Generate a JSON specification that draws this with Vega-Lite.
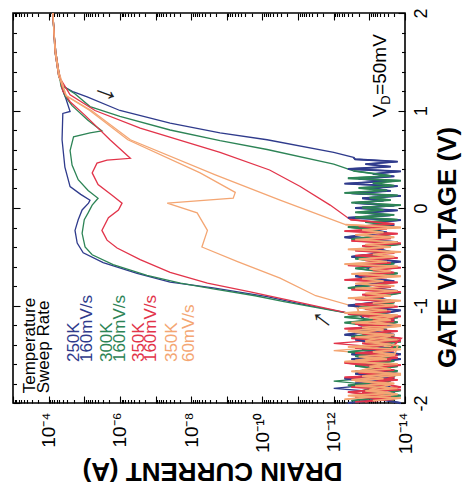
{
"$schema":"https://vega.github.io/schema/vega-lite/v6.json",
"width":392,"height":390,
"autosize":{"type":"none"},
"padding":{"left":13,"top":13,"right":60,"bottom":88},
"background":"white",
"config":{"view":{"stroke":"black","strokeWidth":1.6},"font":"Liberation Sans","axis":{"grid":false,"domain":false,"tickColor":"black","labelColor":"black","titleColor":"black","labelOverlap":false}},
"datasets":{
"curves":[
{"c":"a","b":"f","v":-2,"i":1.3e-14},{"c":"a","b":"f","v":-1.95,"i":8e-14},{"c":"a","b":"f","v":-1.9,"i":2e-14},{"c":"a","b":"f","v":-1.85,"i":1e-12},{"c":"a","b":"f","v":-1.8,"i":3.2e-14},{"c":"a","b":"f","v":-1.75,"i":5e-13},{"c":"a","b":"f","v":-1.7,"i":1.6e-14},{"c":"a","b":"f","v":-1.65,"i":1e-13},{"c":"a","b":"f","v":-1.6,"i":2.5e-14},{"c":"a","b":"f","v":-1.55,"i":3.2e-13},{"c":"a","b":"f","v":-1.5,"i":1.3e-14},{"c":"a","b":"f","v":-1.45,"i":1.6e-13},{"c":"a","b":"f","v":-1.4,"i":4e-14},{"c":"a","b":"f","v":-1.35,"i":2.5e-13},{"c":"a","b":"f","v":-1.3,"i":2e-14},{"c":"a","b":"f","v":-1.25,"i":2.5e-13},{"c":"a","b":"f","v":-1.2,"i":1.6e-14},{"c":"a","b":"f","v":-1.15,"i":1.3e-13},
{"c":"a","b":"f","v":-1.1,"i":1.8e-13},{"c":"a","b":"f","v":-1.05,"i":1e-12},{"c":"a","b":"f","v":-0.97,"i":1.26e-11},{"c":"a","b":"f","v":-0.91,"i":7.4e-11},{"c":"a","b":"f","v":-0.82,"i":2.4e-9},{"c":"a","b":"f","v":-0.76,"i":3.9e-8},{"c":"a","b":"f","v":-0.67,"i":3.3e-7},{"c":"a","b":"f","v":-0.56,"i":2.95e-6},{"c":"a","b":"f","v":-0.46,"i":1.07e-5},{"c":"a","b":"f","v":-0.36,"i":1.58e-5},{"c":"a","b":"f","v":-0.23,"i":1.82e-5},{"c":"a","b":"f","v":-0.12,"i":1.48e-5},{"c":"a","b":"f","v":-0.02,"i":1.15e-5},{"c":"a","b":"f","v":0.05,"i":7.6e-6},{"c":"a","b":"f","v":0.08,"i":6.9e-6},{"c":"a","b":"f","v":0.14,"i":1.26e-5},{"c":"a","b":"f","v":0.22,"i":2.5e-5},{"c":"a","b":"f","v":0.42,"i":3.5e-5},{"c":"a","b":"f","v":0.7,"i":4.2e-5},{"c":"a","b":"f","v":0.97,"i":4e-5},{"c":"a","b":"f","v":0.99,"i":2.5e-5},{"c":"a","b":"f","v":1.11,"i":3.2e-5},{"c":"a","b":"f","v":1.21,"i":4e-5},{"c":"a","b":"f","v":1.4,"i":5.2e-5},{"c":"a","b":"f","v":1.6,"i":6.3e-5},{"c":"a","b":"f","v":1.8,"i":7.1e-5},{"c":"a","b":"f","v":2,"i":7.6e-5},
{"c":"a","b":"r","v":2,"i":7.6e-5},{"c":"a","b":"r","v":1.6,"i":6.6e-5},{"c":"a","b":"r","v":1.35,"i":5.2e-5},{"c":"a","b":"r","v":1.25,"i":4e-5},{"c":"a","b":"r","v":1.19,"i":2e-5},{"c":"a","b":"r","v":1.14,"i":8.3e-6},{"c":"a","b":"r","v":1,"i":1e-6},{"c":"a","b":"r","v":0.87,"i":3.9e-8},{"c":"a","b":"r","v":0.77,"i":1.55e-9},{"c":"a","b":"r","v":0.7,"i":7.4e-11},{"c":"a","b":"r","v":0.57,"i":1e-12},{"c":"a","b":"r","v":0.52,"i":2.8e-13},
{"c":"a","b":"r","v":0.5,"i":2.5e-13},{"c":"a","b":"r","v":0.475,"i":1.6e-14},{"c":"a","b":"r","v":0.45,"i":1.3e-13},{"c":"a","b":"r","v":0.425,"i":2.5e-14},{"c":"a","b":"r","v":0.4,"i":4e-13},{"c":"a","b":"r","v":0.375,"i":1.3e-14},{"c":"a","b":"r","v":0.35,"i":8e-14},{"c":"a","b":"r","v":0.325,"i":2e-14},{"c":"a","b":"r","v":0.3,"i":2e-13},{"c":"a","b":"r","v":0.275,"i":3.2e-14},{"c":"a","b":"r","v":0.25,"i":5e-13},{"c":"a","b":"r","v":0.225,"i":1.6e-14},{"c":"a","b":"r","v":0.2,"i":1e-13},{"c":"a","b":"r","v":0.175,"i":2.5e-14},{"c":"a","b":"r","v":0.15,"i":3.2e-13},{"c":"a","b":"r","v":0.125,"i":1.3e-14},{"c":"a","b":"r","v":0.1,"i":1.6e-13},{"c":"a","b":"r","v":0.075,"i":4e-14},{"c":"a","b":"r","v":0.05,"i":2.5e-13},{"c":"a","b":"r","v":0.025,"i":2e-14},{"c":"a","b":"r","v":0,"i":2.5e-13},{"c":"a","b":"r","v":-0.025,"i":1.6e-14},{"c":"a","b":"r","v":-0.05,"i":1.3e-13},{"c":"a","b":"r","v":-0.075,"i":2.5e-14},{"c":"a","b":"r","v":-0.1,"i":4e-13},{"c":"a","b":"r","v":-0.125,"i":1.3e-14},{"c":"a","b":"r","v":-0.15,"i":8e-14},{"c":"a","b":"r","v":-0.175,"i":2e-14},{"c":"a","b":"r","v":-0.2,"i":2e-13},
{"c":"a","b":"r","v":-0.25,"i":3.2e-14},{"c":"a","b":"r","v":-0.3,"i":5e-13},{"c":"a","b":"r","v":-0.35,"i":1.6e-14},{"c":"a","b":"r","v":-0.4,"i":1e-13},{"c":"a","b":"r","v":-0.45,"i":2.5e-14},{"c":"a","b":"r","v":-0.5,"i":3.2e-13},{"c":"a","b":"r","v":-0.55,"i":1.3e-14},{"c":"a","b":"r","v":-0.6,"i":1.6e-13},{"c":"a","b":"r","v":-0.65,"i":4e-14},{"c":"a","b":"r","v":-0.7,"i":2.5e-13},{"c":"a","b":"r","v":-0.75,"i":2e-14},{"c":"a","b":"r","v":-0.8,"i":2.5e-13},{"c":"a","b":"r","v":-0.85,"i":1.6e-14},{"c":"a","b":"r","v":-0.9,"i":1.3e-13},{"c":"a","b":"r","v":-0.95,"i":2.5e-14},{"c":"a","b":"r","v":-1,"i":4e-13},{"c":"a","b":"r","v":-1.05,"i":1.3e-14},{"c":"a","b":"r","v":-1.1,"i":8e-14},{"c":"a","b":"r","v":-1.15,"i":2e-14},{"c":"a","b":"r","v":-1.2,"i":2e-13},{"c":"a","b":"r","v":-1.25,"i":3.2e-14},{"c":"a","b":"r","v":-1.3,"i":5e-13},{"c":"a","b":"r","v":-1.35,"i":1.6e-14},{"c":"a","b":"r","v":-1.4,"i":1e-13},{"c":"a","b":"r","v":-1.45,"i":2.5e-14},{"c":"a","b":"r","v":-1.5,"i":3.2e-13},{"c":"a","b":"r","v":-1.55,"i":1.3e-14},{"c":"a","b":"r","v":-1.6,"i":1.6e-13},{"c":"a","b":"r","v":-1.65,"i":4e-14},{"c":"a","b":"r","v":-1.7,"i":2.5e-13},{"c":"a","b":"r","v":-1.75,"i":2e-14},{"c":"a","b":"r","v":-1.8,"i":2.5e-13},{"c":"a","b":"r","v":-1.85,"i":1.6e-14},{"c":"a","b":"r","v":-1.9,"i":1.3e-13},{"c":"a","b":"r","v":-1.95,"i":2.5e-14},{"c":"a","b":"r","v":-2,"i":4e-13},

{"c":"b","b":"f","v":-1.975,"i":3.2e-13},{"c":"b","b":"f","v":-1.925,"i":1.3e-14},{"c":"b","b":"f","v":-1.875,"i":1.6e-13},{"c":"b","b":"f","v":-1.825,"i":4e-14},{"c":"b","b":"f","v":-1.775,"i":1e-12},{"c":"b","b":"f","v":-1.725,"i":2e-14},{"c":"b","b":"f","v":-1.675,"i":2.5e-13},{"c":"b","b":"f","v":-1.625,"i":1.6e-14},{"c":"b","b":"f","v":-1.575,"i":1.3e-13},{"c":"b","b":"f","v":-1.525,"i":2.5e-14},{"c":"b","b":"f","v":-1.475,"i":4e-13},{"c":"b","b":"f","v":-1.425,"i":1.3e-14},{"c":"b","b":"f","v":-1.375,"i":8e-14},{"c":"b","b":"f","v":-1.325,"i":2e-14},{"c":"b","b":"f","v":-1.275,"i":2e-13},{"c":"b","b":"f","v":-1.225,"i":3.2e-14},{"c":"b","b":"f","v":-1.175,"i":5e-13},{"c":"b","b":"f","v":-1.125,"i":1.6e-14},
{"c":"b","b":"f","v":-1.1,"i":1.8e-13},{"c":"b","b":"f","v":-1.04,"i":1.6e-12},{"c":"b","b":"f","v":-0.96,"i":2.5e-11},{"c":"b","b":"f","v":-0.9,"i":1.6e-10},{"c":"b","b":"f","v":-0.83,"i":2.4e-9},{"c":"b","b":"f","v":-0.77,"i":2e-8},{"c":"b","b":"f","v":-0.69,"i":1.74e-7},{"c":"b","b":"f","v":-0.58,"i":1.55e-6},{"c":"b","b":"f","v":-0.48,"i":6e-6},{"c":"b","b":"f","v":-0.4,"i":9.5e-6},{"c":"b","b":"f","v":-0.26,"i":1.15e-5},{"c":"b","b":"f","v":-0.12,"i":1e-5},{"c":"b","b":"f","v":-0.05,"i":7.8e-6},{"c":"b","b":"f","v":0.03,"i":6e-6},{"c":"b","b":"f","v":0.1,"i":4.1e-6},{"c":"b","b":"f","v":0.18,"i":7.8e-6},{"c":"b","b":"f","v":0.29,"i":1.48e-5},{"c":"b","b":"f","v":0.44,"i":2.2e-5},{"c":"b","b":"f","v":0.59,"i":2.5e-5},{"c":"b","b":"f","v":0.73,"i":2e-5},{"c":"b","b":"f","v":0.77,"i":6.9e-6},{"c":"b","b":"f","v":0.79,"i":3.2e-6},{"c":"b","b":"f","v":0.9,"i":7.9e-6},{"c":"b","b":"f","v":1.05,"i":2.2e-5},{"c":"b","b":"f","v":1.15,"i":3.5e-5},{"c":"b","b":"f","v":1.25,"i":4.5e-5},{"c":"b","b":"f","v":1.4,"i":5.2e-5},{"c":"b","b":"f","v":1.6,"i":6.3e-5},{"c":"b","b":"f","v":1.8,"i":7.1e-5},{"c":"b","b":"f","v":2,"i":7.6e-5},
{"c":"b","b":"r","v":2,"i":7.6e-5},{"c":"b","b":"r","v":1.6,"i":6.6e-5},{"c":"b","b":"r","v":1.35,"i":5.2e-5},{"c":"b","b":"r","v":1.25,"i":4e-5},{"c":"b","b":"r","v":1.17,"i":1.8e-5},{"c":"b","b":"r","v":1.04,"i":6.9e-6},{"c":"b","b":"r","v":0.94,"i":1e-6},{"c":"b","b":"r","v":0.8,"i":3.9e-8},{"c":"b","b":"r","v":0.69,"i":1.55e-9},{"c":"b","b":"r","v":0.6,"i":7.4e-11},{"c":"b","b":"r","v":0.45,"i":1e-12},{"c":"b","b":"r","v":0.38,"i":2.8e-13},
{"c":"b","b":"r","v":0.33,"i":2.5e-14},{"c":"b","b":"r","v":0.305,"i":4e-13},{"c":"b","b":"r","v":0.28,"i":1.3e-14},{"c":"b","b":"r","v":0.255,"i":8e-14},{"c":"b","b":"r","v":0.23,"i":2e-14},{"c":"b","b":"r","v":0.205,"i":2e-13},{"c":"b","b":"r","v":0.18,"i":3.2e-14},{"c":"b","b":"r","v":0.155,"i":5e-13},{"c":"b","b":"r","v":0.13,"i":1.6e-14},{"c":"b","b":"r","v":0.105,"i":1e-13},{"c":"b","b":"r","v":0.08,"i":2.5e-14},{"c":"b","b":"r","v":0.055,"i":3.2e-13},{"c":"b","b":"r","v":0.03,"i":1.3e-14},{"c":"b","b":"r","v":0.005,"i":1.6e-13},{"c":"b","b":"r","v":-0.02,"i":4e-14},{"c":"b","b":"r","v":-0.045,"i":2.5e-13},{"c":"b","b":"r","v":-0.07,"i":2e-14},{"c":"b","b":"r","v":-0.095,"i":2.5e-13},{"c":"b","b":"r","v":-0.12,"i":1.6e-14},{"c":"b","b":"r","v":-0.145,"i":1.3e-13},{"c":"b","b":"r","v":-0.17,"i":2.5e-14},{"c":"b","b":"r","v":-0.195,"i":4e-13},
{"c":"b","b":"r","v":-0.22,"i":1e-13},{"c":"b","b":"r","v":-0.27,"i":2.5e-14},{"c":"b","b":"r","v":-0.32,"i":3.2e-13},{"c":"b","b":"r","v":-0.37,"i":1.3e-14},{"c":"b","b":"r","v":-0.42,"i":1.6e-13},{"c":"b","b":"r","v":-0.47,"i":4e-14},{"c":"b","b":"r","v":-0.52,"i":2.5e-13},{"c":"b","b":"r","v":-0.57,"i":2e-14},{"c":"b","b":"r","v":-0.62,"i":2.5e-13},{"c":"b","b":"r","v":-0.67,"i":1.6e-14},{"c":"b","b":"r","v":-0.72,"i":1.3e-13},{"c":"b","b":"r","v":-0.77,"i":2.5e-14},{"c":"b","b":"r","v":-0.82,"i":4e-13},{"c":"b","b":"r","v":-0.87,"i":1.3e-14},{"c":"b","b":"r","v":-0.92,"i":8e-14},{"c":"b","b":"r","v":-0.97,"i":2e-14},{"c":"b","b":"r","v":-1.02,"i":2e-13},{"c":"b","b":"r","v":-1.07,"i":3.2e-14},{"c":"b","b":"r","v":-1.12,"i":5e-13},{"c":"b","b":"r","v":-1.17,"i":1.6e-14},{"c":"b","b":"r","v":-1.22,"i":1e-13},{"c":"b","b":"r","v":-1.27,"i":2.5e-14},{"c":"b","b":"r","v":-1.32,"i":3.2e-13},{"c":"b","b":"r","v":-1.37,"i":1.3e-14},{"c":"b","b":"r","v":-1.42,"i":1.6e-13},{"c":"b","b":"r","v":-1.47,"i":4e-14},{"c":"b","b":"r","v":-1.52,"i":2.5e-13},{"c":"b","b":"r","v":-1.57,"i":2e-14},{"c":"b","b":"r","v":-1.62,"i":2.5e-13},{"c":"b","b":"r","v":-1.67,"i":1.6e-14},{"c":"b","b":"r","v":-1.72,"i":1.3e-13},{"c":"b","b":"r","v":-1.77,"i":2.5e-14},{"c":"b","b":"r","v":-1.82,"i":4e-13},{"c":"b","b":"r","v":-1.87,"i":1.3e-14},{"c":"b","b":"r","v":-1.92,"i":8e-14},{"c":"b","b":"r","v":-1.97,"i":2e-14},

{"c":"c","b":"f","v":-1.9875,"i":1.3e-13},{"c":"c","b":"f","v":-1.9375,"i":2.5e-14},{"c":"c","b":"f","v":-1.8875,"i":4e-13},{"c":"c","b":"f","v":-1.8375,"i":1.3e-14},{"c":"c","b":"f","v":-1.7875,"i":8e-14},{"c":"c","b":"f","v":-1.7375,"i":2e-14},{"c":"c","b":"f","v":-1.6875,"i":2e-13},{"c":"c","b":"f","v":-1.6375,"i":3.2e-14},{"c":"c","b":"f","v":-1.5875,"i":5e-13},{"c":"c","b":"f","v":-1.5375,"i":1.6e-14},{"c":"c","b":"f","v":-1.4875,"i":1e-13},{"c":"c","b":"f","v":-1.4375,"i":2.5e-14},{"c":"c","b":"f","v":-1.3875,"i":1e-12},{"c":"c","b":"f","v":-1.3375,"i":1.3e-14},{"c":"c","b":"f","v":-1.2875,"i":1.6e-13},{"c":"c","b":"f","v":-1.2375,"i":4e-14},{"c":"c","b":"f","v":-1.1875,"i":2.5e-13},{"c":"c","b":"f","v":-1.1375,"i":2e-14},
{"c":"c","b":"f","v":-1.11,"i":1.6e-13},{"c":"c","b":"f","v":-0.97,"i":8.7e-12},{"c":"c","b":"f","v":-0.86,"i":2.2e-10},{"c":"c","b":"f","v":-0.77,"i":3.5e-9},{"c":"c","b":"f","v":-0.66,"i":3.9e-8},{"c":"c","b":"f","v":-0.53,"i":2.7e-7},{"c":"c","b":"f","v":-0.41,"i":1.2e-6},{"c":"c","b":"f","v":-0.33,"i":2.3e-6},{"c":"c","b":"f","v":-0.23,"i":3.2e-6},{"c":"c","b":"f","v":-0.1,"i":2.1e-6},{"c":"c","b":"f","v":-0.02,"i":1.1e-6},{"c":"c","b":"f","v":0.05,"i":8.7e-7},{"c":"c","b":"f","v":0.13,"i":1.66e-6},{"c":"c","b":"f","v":0.24,"i":4.1e-6},{"c":"c","b":"f","v":0.36,"i":6e-6},{"c":"c","b":"f","v":0.46,"i":4.4e-6},{"c":"c","b":"f","v":0.49,"i":2.3e-6},{"c":"c","b":"f","v":0.51,"i":5.1e-7},{"c":"c","b":"f","v":0.7,"i":1.9e-6},{"c":"c","b":"f","v":0.95,"i":9.5e-6},{"c":"c","b":"f","v":1.09,"i":2.5e-5},{"c":"c","b":"f","v":1.2,"i":4e-5},{"c":"c","b":"f","v":1.4,"i":5.2e-5},{"c":"c","b":"f","v":1.6,"i":6.3e-5},{"c":"c","b":"f","v":1.8,"i":7.1e-5},{"c":"c","b":"f","v":2,"i":7.6e-5},
{"c":"c","b":"r","v":2,"i":7.6e-5},{"c":"c","b":"r","v":1.6,"i":6.6e-5},{"c":"c","b":"r","v":1.35,"i":5.2e-5},{"c":"c","b":"r","v":1.25,"i":3.5e-5},{"c":"c","b":"r","v":1.16,"i":2.5e-5},{"c":"c","b":"r","v":1,"i":5e-6},{"c":"c","b":"r","v":0.82,"i":2.7e-7},{"c":"c","b":"r","v":0.57,"i":1.55e-9},{"c":"c","b":"r","v":0.39,"i":6.3e-11},{"c":"c","b":"r","v":0.22,"i":8.7e-12},{"c":"c","b":"r","v":0.03,"i":1.26e-12},{"c":"c","b":"r","v":-0.12,"i":3.4e-13},
{"c":"c","b":"r","v":-0.1625,"i":2e-14},{"c":"c","b":"r","v":-0.1875,"i":2e-13},{"c":"c","b":"r","v":-0.2125,"i":3.2e-14},{"c":"c","b":"r","v":-0.2375,"i":5e-13},{"c":"c","b":"r","v":-0.2625,"i":1.6e-14},{"c":"c","b":"r","v":-0.2875,"i":1e-13},{"c":"c","b":"r","v":-0.3125,"i":2.5e-14},{"c":"c","b":"r","v":-0.3375,"i":3.2e-13},{"c":"c","b":"r","v":-0.3625,"i":1.3e-14},{"c":"c","b":"r","v":-0.3875,"i":1.6e-13},{"c":"c","b":"r","v":-0.4125,"i":4e-14},{"c":"c","b":"r","v":-0.4375,"i":2.5e-13},{"c":"c","b":"r","v":-0.4625,"i":2e-14},{"c":"c","b":"r","v":-0.4875,"i":2.5e-13},{"c":"c","b":"r","v":-0.5125,"i":1.6e-14},{"c":"c","b":"r","v":-0.5375,"i":1.3e-13},{"c":"c","b":"r","v":-0.5625,"i":2.5e-14},{"c":"c","b":"r","v":-0.5875,"i":4e-13},{"c":"c","b":"r","v":-0.6125,"i":1.3e-14},{"c":"c","b":"r","v":-0.6375,"i":8e-14},{"c":"c","b":"r","v":-0.6625,"i":2e-14},{"c":"c","b":"r","v":-0.6875,"i":2e-13},{"c":"c","b":"r","v":-0.7125,"i":3.2e-14},{"c":"c","b":"r","v":-0.7375,"i":5e-13},{"c":"c","b":"r","v":-0.7625,"i":1.6e-14},{"c":"c","b":"r","v":-0.7875,"i":1e-13},{"c":"c","b":"r","v":-0.8125,"i":2.5e-14},{"c":"c","b":"r","v":-0.8375,"i":3.2e-13},{"c":"c","b":"r","v":-0.8625,"i":1.3e-14},{"c":"c","b":"r","v":-0.8875,"i":1.6e-13},{"c":"c","b":"r","v":-0.9125,"i":4e-14},{"c":"c","b":"r","v":-0.9375,"i":2.5e-13},{"c":"c","b":"r","v":-0.9625,"i":2e-14},{"c":"c","b":"r","v":-0.9875,"i":2.5e-13},{"c":"c","b":"r","v":-1.0125,"i":1.6e-14},{"c":"c","b":"r","v":-1.0375,"i":1.3e-13},{"c":"c","b":"r","v":-1.0625,"i":2.5e-14},{"c":"c","b":"r","v":-1.0875,"i":4e-13},{"c":"c","b":"r","v":-1.1125,"i":1.3e-14},{"c":"c","b":"r","v":-1.1375,"i":8e-14},{"c":"c","b":"r","v":-1.1625,"i":2e-14},{"c":"c","b":"r","v":-1.1875,"i":2e-13},{"c":"c","b":"r","v":-1.2125,"i":3.2e-14},{"c":"c","b":"r","v":-1.2375,"i":5e-13},{"c":"c","b":"r","v":-1.2625,"i":1.6e-14},{"c":"c","b":"r","v":-1.2875,"i":1e-13},{"c":"c","b":"r","v":-1.3125,"i":2.5e-14},{"c":"c","b":"r","v":-1.3375,"i":3.2e-13},{"c":"c","b":"r","v":-1.3625,"i":1.3e-14},{"c":"c","b":"r","v":-1.3875,"i":1.6e-13},{"c":"c","b":"r","v":-1.4125,"i":4e-14},{"c":"c","b":"r","v":-1.4375,"i":2.5e-13},{"c":"c","b":"r","v":-1.4625,"i":2e-14},{"c":"c","b":"r","v":-1.4875,"i":2.5e-13},{"c":"c","b":"r","v":-1.5125,"i":1.6e-14},{"c":"c","b":"r","v":-1.5375,"i":1.3e-13},{"c":"c","b":"r","v":-1.5625,"i":2.5e-14},{"c":"c","b":"r","v":-1.5875,"i":4e-13},{"c":"c","b":"r","v":-1.6125,"i":1.3e-14},{"c":"c","b":"r","v":-1.6375,"i":8e-14},{"c":"c","b":"r","v":-1.6625,"i":2e-14},{"c":"c","b":"r","v":-1.6875,"i":2e-13},{"c":"c","b":"r","v":-1.7125,"i":3.2e-14},{"c":"c","b":"r","v":-1.7375,"i":5e-13},{"c":"c","b":"r","v":-1.7625,"i":1.6e-14},{"c":"c","b":"r","v":-1.7875,"i":1e-13},{"c":"c","b":"r","v":-1.8125,"i":2.5e-14},{"c":"c","b":"r","v":-1.8375,"i":3.2e-13},{"c":"c","b":"r","v":-1.8625,"i":1.3e-14},{"c":"c","b":"r","v":-1.8875,"i":1.6e-13},{"c":"c","b":"r","v":-1.9125,"i":4e-14},{"c":"c","b":"r","v":-1.9375,"i":2.5e-13},{"c":"c","b":"r","v":-1.9625,"i":2e-14},{"c":"c","b":"r","v":-1.9875,"i":2.5e-13},

{"c":"d","b":"f","v":-1.9625,"i":5e-13},{"c":"d","b":"f","v":-1.9125,"i":1.6e-14},{"c":"d","b":"f","v":-1.8625,"i":1e-13},{"c":"d","b":"f","v":-1.8125,"i":2.5e-14},{"c":"d","b":"f","v":-1.7625,"i":3.2e-13},{"c":"d","b":"f","v":-1.7125,"i":1.3e-14},{"c":"d","b":"f","v":-1.6625,"i":1.6e-13},{"c":"d","b":"f","v":-1.6125,"i":4e-14},{"c":"d","b":"f","v":-1.5625,"i":2.5e-13},{"c":"d","b":"f","v":-1.5125,"i":2e-14},{"c":"d","b":"f","v":-1.4625,"i":1e-12},{"c":"d","b":"f","v":-1.4125,"i":1.6e-14},{"c":"d","b":"f","v":-1.3625,"i":1.3e-13},{"c":"d","b":"f","v":-1.3125,"i":2.5e-14},{"c":"d","b":"f","v":-1.2625,"i":4e-13},{"c":"d","b":"f","v":-1.2125,"i":1.3e-14},{"c":"d","b":"f","v":-1.1625,"i":8e-14},{"c":"d","b":"f","v":-1.1125,"i":2e-14},{"c":"d","b":"f","v":-1.0625,"i":2e-13},
{"c":"d","b":"f","v":-1.02,"i":2.2e-13},{"c":"d","b":"f","v":-0.9,"i":3.2e-12},{"c":"d","b":"f","v":-0.72,"i":3.2e-11},{"c":"d","b":"f","v":-0.55,"i":5e-10},{"c":"d","b":"f","v":-0.4,"i":5e-9},{"c":"d","b":"f","v":-0.23,"i":3.5e-9},{"c":"d","b":"f","v":-0.05,"i":6.8e-9},{"c":"d","b":"f","v":0.05,"i":4.7e-8},{"c":"d","b":"f","v":0.1,"i":6.6e-10},{"c":"d","b":"f","v":0.16,"i":5.8e-10},{"c":"d","b":"f","v":0.36,"i":5.6e-9},{"c":"d","b":"f","v":0.7,"i":6e-7},{"c":"d","b":"f","v":1,"i":7e-6},{"c":"d","b":"f","v":1.15,"i":3.2e-5},{"c":"d","b":"f","v":1.4,"i":5.2e-5},{"c":"d","b":"f","v":1.6,"i":6.3e-5},{"c":"d","b":"f","v":1.8,"i":7.1e-5},{"c":"d","b":"f","v":2,"i":7.6e-5},
{"c":"d","b":"r","v":2,"i":7.6e-5},{"c":"d","b":"r","v":1.6,"i":6.6e-5},{"c":"d","b":"r","v":1.35,"i":5.2e-5},{"c":"d","b":"r","v":1.15,"i":3.2e-5},{"c":"d","b":"r","v":1,"i":6.3e-6},{"c":"d","b":"r","v":0.7,"i":5.1e-7},{"c":"d","b":"r","v":0.34,"i":2.1e-9},{"c":"d","b":"r","v":0.08,"i":3.2e-11},{"c":"d","b":"r","v":-0.17,"i":4.7e-13},
{"c":"d","b":"r","v":-0.2,"i":1.3e-14},{"c":"d","b":"r","v":-0.225,"i":1.6e-13},{"c":"d","b":"r","v":-0.25,"i":4e-14},{"c":"d","b":"r","v":-0.275,"i":2.5e-13},{"c":"d","b":"r","v":-0.3,"i":2e-14},{"c":"d","b":"r","v":-0.325,"i":2.5e-13},{"c":"d","b":"r","v":-0.35,"i":1.6e-14},{"c":"d","b":"r","v":-0.375,"i":1.3e-13},{"c":"d","b":"r","v":-0.4,"i":2.5e-14},{"c":"d","b":"r","v":-0.425,"i":4e-13},{"c":"d","b":"r","v":-0.45,"i":1.3e-14},{"c":"d","b":"r","v":-0.475,"i":8e-14},{"c":"d","b":"r","v":-0.5,"i":2e-14},{"c":"d","b":"r","v":-0.525,"i":2e-13},{"c":"d","b":"r","v":-0.55,"i":3.2e-14},{"c":"d","b":"r","v":-0.575,"i":5e-13},{"c":"d","b":"r","v":-0.6,"i":1.6e-14},{"c":"d","b":"r","v":-0.625,"i":1e-13},{"c":"d","b":"r","v":-0.65,"i":2.5e-14},{"c":"d","b":"r","v":-0.675,"i":3.2e-13},{"c":"d","b":"r","v":-0.7,"i":1.3e-14},{"c":"d","b":"r","v":-0.725,"i":1.6e-13},{"c":"d","b":"r","v":-0.75,"i":4e-14},{"c":"d","b":"r","v":-0.775,"i":2.5e-13},{"c":"d","b":"r","v":-0.8,"i":2e-14},{"c":"d","b":"r","v":-0.825,"i":2.5e-13},{"c":"d","b":"r","v":-0.85,"i":1.6e-14},{"c":"d","b":"r","v":-0.875,"i":1.3e-13},{"c":"d","b":"r","v":-0.9,"i":2.5e-14},{"c":"d","b":"r","v":-0.925,"i":4e-13},{"c":"d","b":"r","v":-0.95,"i":1.3e-14},{"c":"d","b":"r","v":-0.975,"i":8e-14},{"c":"d","b":"r","v":-1,"i":2e-14},{"c":"d","b":"r","v":-1.025,"i":2e-13},{"c":"d","b":"r","v":-1.05,"i":3.2e-14},{"c":"d","b":"r","v":-1.075,"i":5e-13},{"c":"d","b":"r","v":-1.1,"i":1.6e-14},{"c":"d","b":"r","v":-1.125,"i":1e-13},{"c":"d","b":"r","v":-1.15,"i":2.5e-14},{"c":"d","b":"r","v":-1.175,"i":3.2e-13},{"c":"d","b":"r","v":-1.2,"i":1.3e-14},{"c":"d","b":"r","v":-1.225,"i":1.6e-13},{"c":"d","b":"r","v":-1.25,"i":4e-14},{"c":"d","b":"r","v":-1.275,"i":2.5e-13},{"c":"d","b":"r","v":-1.3,"i":2e-14},{"c":"d","b":"r","v":-1.325,"i":2.5e-13},{"c":"d","b":"r","v":-1.35,"i":1.6e-14},{"c":"d","b":"r","v":-1.375,"i":1.3e-13},{"c":"d","b":"r","v":-1.4,"i":2.5e-14},{"c":"d","b":"r","v":-1.425,"i":4e-13},{"c":"d","b":"r","v":-1.45,"i":1.3e-14},{"c":"d","b":"r","v":-1.475,"i":8e-14},{"c":"d","b":"r","v":-1.5,"i":2e-14},{"c":"d","b":"r","v":-1.525,"i":2e-13},{"c":"d","b":"r","v":-1.55,"i":3.2e-14},{"c":"d","b":"r","v":-1.575,"i":5e-13},{"c":"d","b":"r","v":-1.6,"i":1.6e-14},{"c":"d","b":"r","v":-1.625,"i":1e-13},{"c":"d","b":"r","v":-1.65,"i":2.5e-14},{"c":"d","b":"r","v":-1.675,"i":3.2e-13},{"c":"d","b":"r","v":-1.7,"i":1.3e-14},{"c":"d","b":"r","v":-1.725,"i":1.6e-13},{"c":"d","b":"r","v":-1.75,"i":4e-14},{"c":"d","b":"r","v":-1.775,"i":2.5e-13},{"c":"d","b":"r","v":-1.8,"i":2e-14},{"c":"d","b":"r","v":-1.825,"i":2.5e-13},{"c":"d","b":"r","v":-1.85,"i":1.6e-14},{"c":"d","b":"r","v":-1.875,"i":1.3e-13},{"c":"d","b":"r","v":-1.9,"i":2.5e-14},{"c":"d","b":"r","v":-1.925,"i":4e-13},{"c":"d","b":"r","v":-1.95,"i":1.3e-14},{"c":"d","b":"r","v":-1.975,"i":8e-14}
],
"legend":[
{"t":"Temperature","c":"k","i":3.3e-4,"v":-1.9},
{"t":"Sweep Rate","c":"k","i":1.35e-4,"v":-1.9},
{"t":"250K","c":"a","i":1.9e-5,"v":-1.58},
{"t":"160mV/s","c":"a","i":8.5e-6,"v":-1.58},
{"t":"300K","c":"b","i":2.3e-6,"v":-1.58},
{"t":"160mV/s","c":"b","i":1e-6,"v":-1.58},
{"t":"350K","c":"c","i":2.9e-7,"v":-1.58},
{"t":"160mV/s","c":"c","i":1.3e-7,"v":-1.58},
{"t":"350K","c":"d","i":3.4e-8,"v":-1.58},
{"t":"60mV/s","c":"d","i":1.15e-8,"v":-1.58}
],
"vd":[{"t":"V","i":4.9e-14,"v":0.93},{"t":"=50mV","i":4.9e-14,"v":1.16}],
"vdsub":[{"t":"D","i":3.4e-14,"v":1.06}],
"arrow1":[{"t":"→","i":2.3e-6,"v":1.21}],
"arrow2":[{"t":"→","i":2.5e-12,"v":-1.18}]
},
"resolve":{"scale":{"x":"independent","y":"independent"}},
"layer":[
{
"layer":[
{"data":{"name":"curves"},
"mark":{"type":"line","strokeWidth":1.3,"interpolate":"linear"},
"encoding":{
"x":{"field":"i","type":"quantitative","scale":{"type":"log","domain":[1e-14,1e-3],"reverse":true,"nice":false},
"axis":{"orient":"bottom","tickCount":20,"labelOverlap":false,"labelFlush":false,
"tickSize":{"condition":{"test":"abs(log(datum.value)/LN10 - round(log(datum.value)/LN10)) < 0.01","value":-7},"value":-3.5},
"tickWidth":1.1,
"labelExpr":"abs(log(datum.value)/LN10 - round(log(datum.value)/LN10)) > 0.01 ? '' : (round(log(datum.value)/LN10) == -4 ? '10⁻⁴' : round(log(datum.value)/LN10) == -6 ? '10⁻⁶' : round(log(datum.value)/LN10) == -8 ? '10⁻⁸' : round(log(datum.value)/LN10) == -10 ? '10⁻¹⁰' : round(log(datum.value)/LN10) == -12 ? '10⁻¹²' : round(log(datum.value)/LN10) == -14 ? '10⁻¹⁴' : '')",
"labelAngle":270,"labelAlign":"right","labelBaseline":"middle","labelFontSize":19,"labelPadding":16,
"title":"DRAIN CURRENT (A)","titleFontSize":26,"titleFontWeight":"bold","titleAngle":180,"titleX":199,"titleY":67,"titleAlign":"center","titleBaseline":"middle"}},
"y":{"field":"v","type":"quantitative","scale":{"domain":[-2,2],"nice":false,"zero":false},
"axis":{"orient":"right","tickCount":20,
"tickSize":{"condition":{"test":"abs(datum.value - round(datum.value)) < 0.01","value":-7},"value":-3.5},
"tickWidth":1.1,"labelOverlap":false,"labelFlush":false,
"labelExpr":"abs(datum.value - round(datum.value)) > 0.01 ? '' : (round(datum.value) < 0 ? '-' + abs(round(datum.value)) : '' + abs(round(datum.value)))",
"labelAngle":270,"labelAlign":"center","labelBaseline":"top","labelFontSize":18,"labelPadding":14,
"title":"GATE VOLTAGE (V)","titleFontSize":26,"titleFontWeight":"bold","titleAngle":270,"titleX":42,"titleY":234,"titleAlign":"center","titleBaseline":"middle"}},
"color":{"field":"c","type":"nominal","scale":{"domain":["a","b","c","d","k"],"range":["#2f3b8c","#2d8456","#e2344a","#f4a673","#000000"]},"legend":null},
"detail":{"field":"b"},
"order":{"field":"v","type":"quantitative"}
}},
{"data":{"name":"curves"},
"transform":[{"filter":"datum.i < 6e-13"}],
"mark":{"type":"line","strokeWidth":1.8,"interpolate":"linear"},
"encoding":{
"x":{"field":"i","type":"quantitative"},
"y":{"field":"v","type":"quantitative"},
"color":{"field":"c","type":"nominal"},
"detail":{"field":"b"},
"order":{"field":"v","type":"quantitative"}
}},
{"data":{"name":"legend"},
"mark":{"type":"text","angle":270,"align":"left","baseline":"middle","fontSize":17},
"encoding":{"x":{"field":"i","type":"quantitative"},"y":{"field":"v","type":"quantitative"},"text":{"field":"t"},"color":{"field":"c","type":"nominal"}}},
{"data":{"name":"vd"},
"mark":{"type":"text","angle":270,"align":"left","baseline":"middle","fontSize":19,"color":"black"},
"encoding":{"x":{"field":"i","type":"quantitative"},"y":{"field":"v","type":"quantitative"},"text":{"field":"t"}}},
{"data":{"name":"vdsub"},
"mark":{"type":"text","angle":270,"align":"left","baseline":"middle","fontSize":13,"color":"black"},
"encoding":{"x":{"field":"i","type":"quantitative"},"y":{"field":"v","type":"quantitative"},"text":{"field":"t"}}},
{"data":{"name":"arrow1"},
"mark":{"type":"text","angle":20,"align":"center","baseline":"middle","fontSize":30,"fontWeight":"bold","color":"#222222"},
"encoding":{"x":{"field":"i","type":"quantitative"},"y":{"field":"v","type":"quantitative"},"text":{"field":"t"}}},
{"data":{"name":"arrow2"},
"mark":{"type":"text","angle":217,"align":"center","baseline":"middle","fontSize":30,"fontWeight":"bold","color":"#222222"},
"encoding":{"x":{"field":"i","type":"quantitative"},"y":{"field":"v","type":"quantitative"},"text":{"field":"t"}}}
]
},
{"data":{"values":[{"i":1e-5,"v":0}]},
"mark":{"type":"point","opacity":0},
"encoding":{
"x":{"field":"i","type":"quantitative","scale":{"type":"log","domain":[1e-14,1e-3],"reverse":true,"nice":false},
"axis":{"orient":"top","tickCount":20,"labels":false,"title":null,
"tickSize":{"condition":{"test":"abs(log(datum.value)/LN10 - round(log(datum.value)/LN10)) < 0.01","value":-7},"value":-3.5},"tickWidth":1.1}},
"y":{"field":"v","type":"quantitative","scale":{"domain":[-2,2],"nice":false,"zero":false},
"axis":{"orient":"left","tickCount":20,"labels":false,"title":null,
"tickSize":{"condition":{"test":"abs(datum.value - round(datum.value)) < 0.01","value":-7},"value":-3.5},"tickWidth":1.1}}
}}
]
}
